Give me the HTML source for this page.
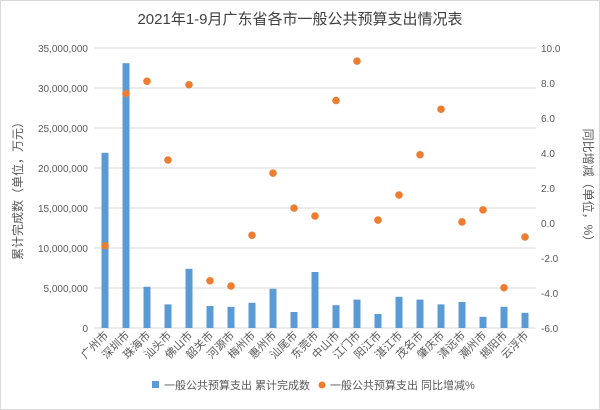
<!DOCTYPE html>
<html><head><meta charset="utf-8">
<style>
body{margin:0;background:#fff;}
svg{display:block;font-family:"Liberation Sans","Noto Sans CJK SC",sans-serif;}
</style></head>
<body>
<svg id="chart" width="600" height="410">
<rect x="0.5" y="0.5" width="599" height="409" fill="#fff" stroke="#d9d9d9"/>
<text x="300" y="24" text-anchor="middle" font-size="15" fill="#404040">2021年1-9月广东省各市一般公共预算支出情况表</text>
<g id="grid"></g><g id="bars"></g><g id="dots"></g><g id="axes"></g>
<text transform="translate(22,188) rotate(-90)" text-anchor="middle" font-size="12" fill="#595959">累计完成数（单位，万元）</text>
<text transform="translate(584,188) rotate(90)" text-anchor="middle" font-size="12" fill="#595959">同比增减（单位，%）</text>
<g>
<rect x="152" y="381" width="7" height="7" fill="#5b9bd5"/>
<text x="164" y="389" font-size="11" fill="#595959">一般公共预算支出 累计完成数</text>
<circle cx="322" cy="385" r="3.5" fill="#ed7d31"/>
<text x="330" y="389" font-size="11" fill="#595959">一般公共预算支出 同比增减%</text>
</g>
</svg>
<script>
const categories=["广州市","深圳市","珠海市","汕头市","佛山市","韶关市","河源市","梅州市","惠州市","汕尾市","东莞市","中山市","江门市","阳江市","湛江市","茂名市","肇庆市","清远市","潮州市","揭阳市","云浮市"];
const spending=[21900000,33100000,5150000,2950000,7400000,2750000,2650000,3150000,4900000,2000000,7000000,2850000,3550000,1750000,3900000,3550000,2950000,3250000,1400000,2650000,1900000];
const growth=[-1.3,7.4,8.1,3.6,7.9,-3.3,-3.6,-0.7,2.85,0.85,0.4,7.0,9.25,0.17,1.6,3.9,6.5,0.06,0.75,-3.7,-0.8];
const leftTicks=[0,5000000,10000000,15000000,20000000,25000000,30000000,35000000];
const leftTickLabels=["0","5,000,000","10,000,000","15,000,000","20,000,000","25,000,000","30,000,000","35,000,000"];
const rightTicks=[-6,-4,-2,0,2,4,6,8,10];
const rightTickLabels=["-6.0","-4.0","-2.0","0.0","2.0","4.0","6.0","8.0","10.0"];
const NS="http://www.w3.org/2000/svg";
const X0=94.5,X1=535.5,YT=48,YB=328;
const yL=v=>YB-(v-0)/(35000000)*(YB-YT);
const yR=v=>YB-(v+6)/16*(YB-YT);
const bw=(X1-X0)/categories.length;
const xC=i=>X0+bw*(i+0.5);
function mk(t,a,p){const e=document.createElementNS(NS,t);for(const k in a)e.setAttribute(k,a[k]);p.appendChild(e);return e;}
const grid=document.getElementById('grid'),axes=document.getElementById('axes'),bars=document.getElementById('bars'),dots=document.getElementById('dots');
leftTicks.forEach((v,i)=>{
 const l=mk('line',{x1:X0,x2:X1,y1:yL(v),y2:yL(v),stroke:'#d9d9d9'},grid);
 
 
 const t=mk('text',{x:88,y:yL(v)+4,'text-anchor':'end','font-size':10,fill:'#595959'},axes);
 t.textContent=leftTickLabels[i];
 
 
});
rightTicks.forEach((v,i)=>{
 const t=mk('text',{x:541,y:yR(v)+4,'font-size':10,fill:'#595959'},axes);
 t.textContent=rightTickLabels[i];
 
 
});
categories.forEach((c,i)=>{
 const r=mk('rect',{x:xC(i)-3.5,y:yL(spending[i]),width:7,height:YB-yL(spending[i]),fill:'#5b9bd5'},bars);
 
 
 const d=mk('circle',{cx:xC(i),cy:yR(growth[i]),r:3.8,fill:'#ed7d31'},dots);
 
 
 const t=mk('text',{transform:`translate(${xC(i)+4},${YB+8}) rotate(-45)`,'text-anchor':'end','font-size':11,fill:'#595959'},axes);
 t.textContent=c;
 
 
});
</script>
</body></html>
